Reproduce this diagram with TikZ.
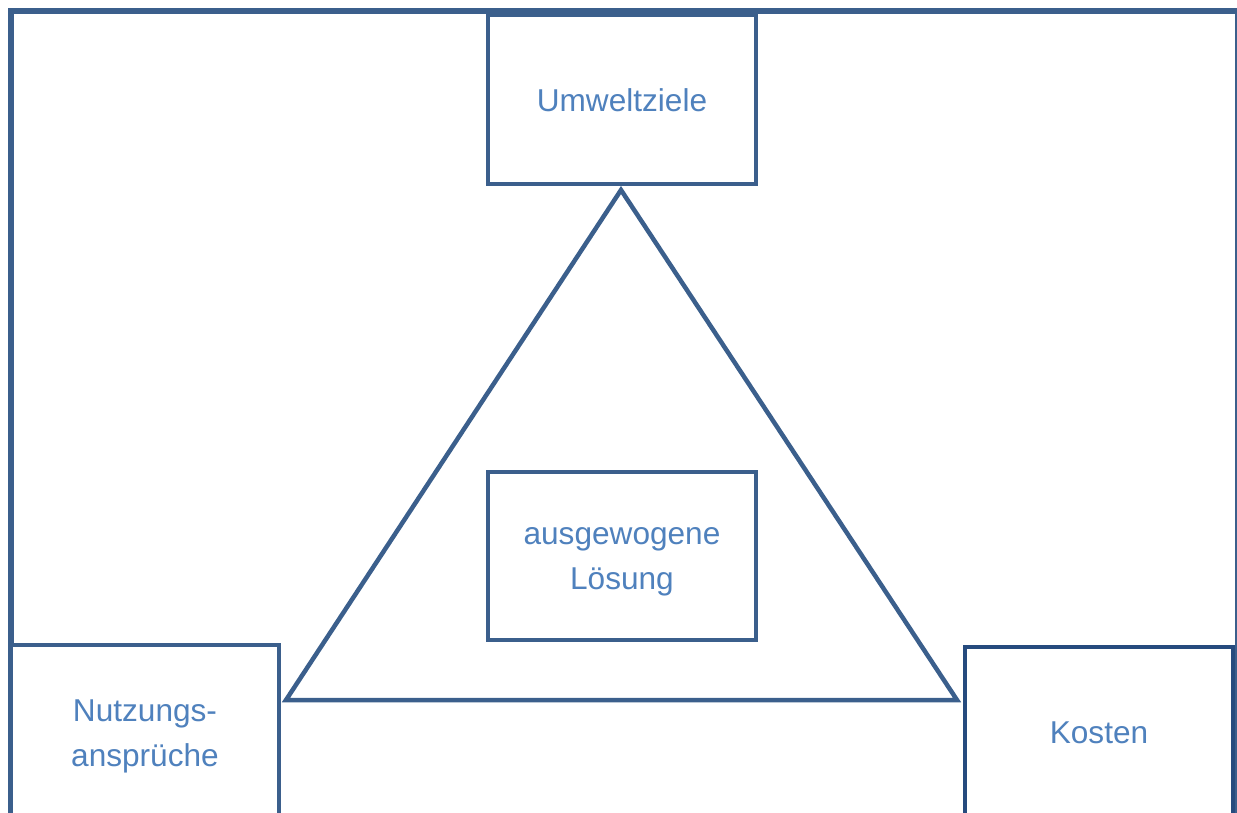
\documentclass[tikz,border=0pt]{standalone}
\usepackage{fontspec}
\setmainfont{Liberation Sans}
\definecolor{linec}{HTML}{3B5F8C}
\definecolor{darkc}{HTML}{264B7E}
\definecolor{textc}{HTML}{4F81BD}
\begin{document}
\begin{tikzpicture}[x=1pt,y=-1pt,
  box/.style={draw=linec,line width=4.5pt,fill=white,rectangle,inner sep=0pt,
    minimum width=268pt},
  lbl/.style={text=textc,align=center,inner sep=0pt,font=\fontsize{31.6}{45}\selectfont},
  frameline/.style={draw=linec,line width=5.5pt}]
\useasboundingbox (0,0) rectangle (1237,812);
\clip (0,0) rectangle (1237,812);
\draw[frameline] (11,11) rectangle (1238,900);
% triangle
\coordinate (apex) at (621,190);
\coordinate (bl) at (286,700);
\coordinate (br) at (957,700);
\draw[draw=linec,line width=4.5pt,line join=miter] (apex) -- (bl) -- (br) -- cycle;
% boxes
\node[box,minimum height=169pt] (umwelt) at (622,99.5) {};
\node[box,minimum height=168pt] (loesung) at (622,556) {};
\node[box,minimum height=174pt] (nutz) at (145,732) {};
\node[box,draw=darkc,minimum height=170pt] (kosten) at (1099,732) {};
% labels
\node[lbl] (umweltT) at (622,100.5) {Umweltziele};
\node[lbl] (loesungT) at (622,562) {ausgewogene\\Lösung};
\node[lbl] (nutzT) at (145,736) {Nutzungs-\\ansprüche};
\node[lbl] (kostenT) at (1099,732.5) {Kosten};
\end{tikzpicture}
\end{document}
